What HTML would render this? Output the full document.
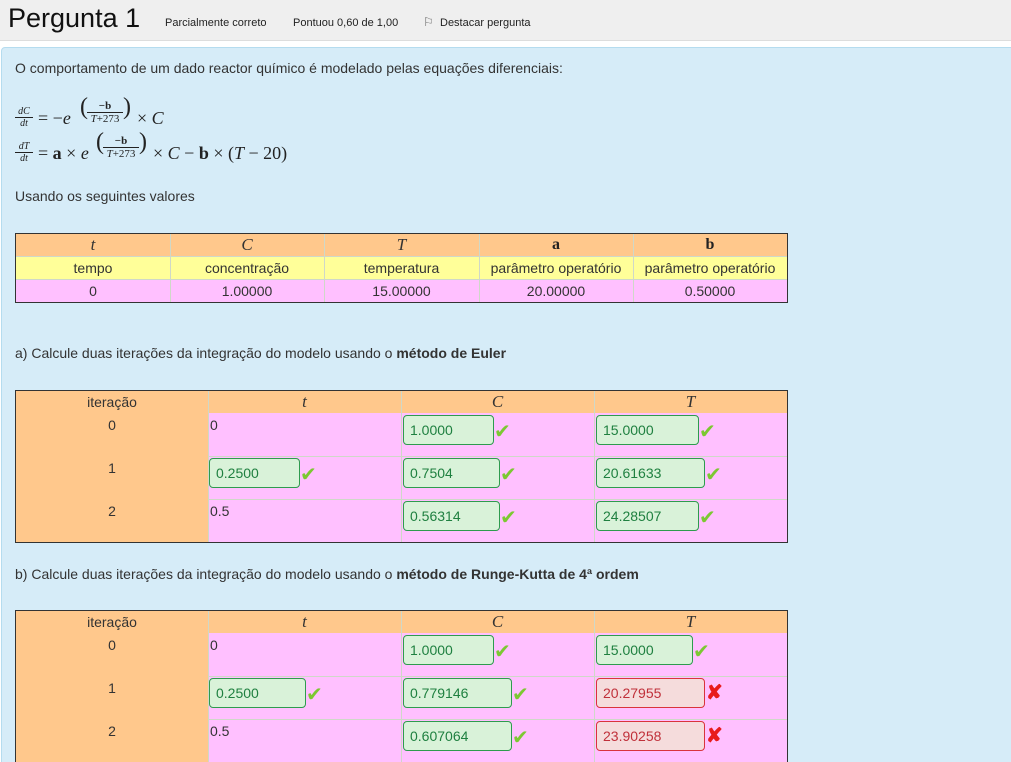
<!DOCTYPE html>
<html><head><meta charset="utf-8"><style>
*{margin:0;padding:0;box-sizing:border-box}
html,body{width:1011px;height:762px;overflow:hidden}
body{background:#fff;font-family:"Liberation Sans",sans-serif;color:#333;position:relative}
.a{position:absolute}
.hdr{left:0;top:0;width:1011px;height:41px;background:#efefef;border-bottom:1px solid #ddd}
.box{left:1px;top:47px;width:1015px;height:720px;background:#d6ecf8;border:1px solid #b5dcef;border-radius:4px}
.t{font-size:14px;color:#333}
.c{position:absolute;text-align:center;font-size:14px;line-height:23px}
.m{font-family:"Liberation Serif",serif;font-style:italic;font-size:17px}
.in{position:absolute;height:30px;border:1px solid #2e9b4e;border-radius:4px;background:#d9f2d9;color:#1f8040;font-size:14px;line-height:28px;padding-left:6px}
.in.r{border-color:#d9343c;background:#f5dcdc;color:#c0303a}
.ck{position:absolute;color:#7cc832;font-size:20px;line-height:20px}
.x{position:absolute;color:#e81c1c;font-size:20px;font-weight:bold;line-height:20px}
.mt{font-family:"Liberation Serif",serif;font-size:18px;color:#222;white-space:nowrap}
</style></head><body>
<div class="a hdr"></div>
<div class="a" style="left:8px;top:3px;font-size:27px;color:#111">Pergunta 1</div>
<div class="a" style="left:165px;top:17px;font-size:11px;color:#222">Parcialmente correto</div>
<div class="a" style="left:293px;top:17px;font-size:11px;color:#222">Pontuou 0,60 de 1,00</div>
<div class="a" style="left:423px;top:15px;font-size:12px;color:#666">⚐</div>
<div class="a" style="left:440px;top:17px;font-size:11px;color:#222">Destacar pergunta</div>
<div class="a box"></div>
<div class="a t" style="left:15px;top:60px">O comportamento de um dado reactor químico é modelado pelas equações diferenciais:</div>

<div class="a mt" style="left:15px;top:106px;font-size:10px;font-style:italic;line-height:11px;text-align:center;width:18px">dC<br><span style="border-top:1px solid #222;display:block">dt</span></div>
<div class="a mt" style="left:38px;top:108px">= −<i>e</i></div>
<div class="a mt" style="left:80px;top:94px;font-size:24px">(</div>
<div class="a mt" style="left:87px;top:100px;font-size:11px;line-height:12px;text-align:center;width:36px"><b>−b</b><br><span style="border-top:1px solid #222;display:block"><i>T</i>+273</span></div>
<div class="a mt" style="left:123px;top:94px;font-size:24px">)</div>
<div class="a mt" style="left:137px;top:108px">× <i>C</i></div>

<div class="a mt" style="left:15px;top:141px;font-size:10px;font-style:italic;line-height:11px;text-align:center;width:18px">dT<br><span style="border-top:1px solid #222;display:block">dt</span></div>
<div class="a mt" style="left:38px;top:143px">= <b>a</b> × <i>e</i></div>
<div class="a mt" style="left:96px;top:129px;font-size:24px">(</div>
<div class="a mt" style="left:103px;top:135px;font-size:11px;line-height:12px;text-align:center;width:36px"><b>−b</b><br><span style="border-top:1px solid #222;display:block"><i>T</i>+273</span></div>
<div class="a mt" style="left:139px;top:129px;font-size:24px">)</div>
<div class="a mt" style="left:153px;top:143px">× <i>C</i> − <b>b</b> × (<i>T</i> − 20)</div>

<div class="a t" style="left:15px;top:188px">Usando os seguintes valores</div>

<!-- table 1 -->
<div class="a" style="left:15px;top:233px;width:773px;height:70px;border:1px solid #333;background:#ffc0ff"></div>
<div class="a" style="left:16px;top:234px;width:771px;height:22px;background:#ffc88c"></div>
<div class="a" style="left:16px;top:256px;width:771px;height:23px;background:#ffff99"></div>
<div class="a" style="left:170px;top:234px;width:1px;height:68px;background:#cfd8c8"></div>
<div class="a" style="left:324px;top:234px;width:1px;height:68px;background:#cfd8c8"></div>
<div class="a" style="left:479px;top:234px;width:1px;height:68px;background:#cfd8c8"></div>
<div class="a" style="left:633px;top:234px;width:1px;height:68px;background:#cfd8c8"></div>
<div class="a" style="left:16px;top:256px;width:771px;height:1px;background:#cfd8c8"></div>
<div class="a" style="left:16px;top:279px;width:771px;height:1px;background:#cfd8c8"></div>
<div class="c m" style="left:16px;top:233px;width:154px">t</div>
<div class="c m" style="left:170px;top:233px;width:154px">C</div>
<div class="c m" style="left:324px;top:233px;width:155px">T</div>
<div class="c mt" style="left:479px;top:233px;width:154px;font-weight:bold;font-size:16px">a</div>
<div class="c mt" style="left:633px;top:233px;width:154px;font-weight:bold;font-size:16px">b</div>
<div class="c" style="left:16px;top:257px;width:154px">tempo</div>
<div class="c" style="left:170px;top:257px;width:154px">concentração</div>
<div class="c" style="left:324px;top:257px;width:155px">temperatura</div>
<div class="c" style="left:479px;top:257px;width:154px">parâmetro operatório</div>
<div class="c" style="left:633px;top:257px;width:154px">parâmetro operatório</div>
<div class="c" style="left:16px;top:280px;width:154px">0</div>
<div class="c" style="left:170px;top:280px;width:154px">1.00000</div>
<div class="c" style="left:324px;top:280px;width:155px">15.00000</div>
<div class="c" style="left:479px;top:280px;width:154px">20.00000</div>
<div class="c" style="left:633px;top:280px;width:154px">0.50000</div>

<div class="a t" style="left:15px;top:345px">a) Calcule duas iterações da integração do modelo usando o <b>método de Euler</b></div>

<!-- table 2 -->
<div class="a" style="left:15px;top:390px;width:773px;height:153px;border:1px solid #333;background:#ffc0ff"></div>
<div class="a" style="left:16px;top:391px;width:771px;height:22px;background:#ffc88c"></div>
<div class="a" style="left:16px;top:391px;width:192px;height:151px;background:#ffc88c"></div>
<div class="a" style="left:208px;top:391px;width:1px;height:151px;background:#cfd8c8"></div>
<div class="a" style="left:401px;top:391px;width:1px;height:151px;background:#cfd8c8"></div>
<div class="a" style="left:594px;top:391px;width:1px;height:151px;background:#cfd8c8"></div>
<div class="a" style="left:208px;top:456px;width:579px;height:1px;background:#cfd8c8"></div>
<div class="a" style="left:208px;top:499px;width:579px;height:1px;background:#cfd8c8"></div>
<div class="c" style="left:16px;top:391px;width:192px">iteração</div>
<div class="c m" style="left:208px;top:390px;width:193px">t</div>
<div class="c m" style="left:401px;top:390px;width:193px">C</div>
<div class="c m" style="left:594px;top:390px;width:193px">T</div>
<div class="c" style="left:16px;top:414px;width:192px">0</div>
<div class="c" style="left:16px;top:457px;width:192px">1</div>
<div class="c" style="left:16px;top:500px;width:192px">2</div>
<div class="a t" style="left:210px;top:417px">0</div>
<div class="a t" style="left:210px;top:503px">0.5</div>
<div class="in" style="left:403px;top:415px;width:91px">1.0000</div><div class="ck" style="left:494px;top:422px">✔</div>
<div class="in" style="left:596px;top:415px;width:103px">15.0000</div><div class="ck" style="left:699px;top:422px">✔</div>
<div class="in" style="left:209px;top:458px;width:91px">0.2500</div><div class="ck" style="left:300px;top:465px">✔</div>
<div class="in" style="left:403px;top:458px;width:97px">0.7504</div><div class="ck" style="left:500px;top:465px">✔</div>
<div class="in" style="left:596px;top:458px;width:109px">20.61633</div><div class="ck" style="left:705px;top:465px">✔</div>
<div class="in" style="left:403px;top:501px;width:97px">0.56314</div><div class="ck" style="left:500px;top:508px">✔</div>
<div class="in" style="left:596px;top:501px;width:103px">24.28507</div><div class="ck" style="left:699px;top:508px">✔</div>

<div class="a t" style="left:15px;top:566px">b) Calcule duas iterações da integração do modelo usando o <b>método de Runge-Kutta de 4ª ordem</b></div>

<!-- table 3 -->
<div class="a" style="left:15px;top:610px;width:773px;height:160px;border:1px solid #333;background:#ffc0ff"></div>
<div class="a" style="left:16px;top:611px;width:771px;height:22px;background:#ffc88c"></div>
<div class="a" style="left:16px;top:611px;width:192px;height:158px;background:#ffc88c"></div>
<div class="a" style="left:208px;top:611px;width:1px;height:158px;background:#cfd8c8"></div>
<div class="a" style="left:401px;top:611px;width:1px;height:158px;background:#cfd8c8"></div>
<div class="a" style="left:594px;top:611px;width:1px;height:158px;background:#cfd8c8"></div>
<div class="a" style="left:208px;top:676px;width:579px;height:1px;background:#cfd8c8"></div>
<div class="a" style="left:208px;top:719px;width:579px;height:1px;background:#cfd8c8"></div>
<div class="c" style="left:16px;top:611px;width:192px">iteração</div>
<div class="c m" style="left:208px;top:610px;width:193px">t</div>
<div class="c m" style="left:401px;top:610px;width:193px">C</div>
<div class="c m" style="left:594px;top:610px;width:193px">T</div>
<div class="c" style="left:16px;top:634px;width:192px">0</div>
<div class="c" style="left:16px;top:677px;width:192px">1</div>
<div class="c" style="left:16px;top:720px;width:192px">2</div>
<div class="a t" style="left:210px;top:637px">0</div>
<div class="a t" style="left:210px;top:723px">0.5</div>
<div class="in" style="left:403px;top:635px;width:91px">1.0000</div><div class="ck" style="left:494px;top:642px">✔</div>
<div class="in" style="left:596px;top:635px;width:97px">15.0000</div><div class="ck" style="left:693px;top:642px">✔</div>
<div class="in" style="left:209px;top:678px;width:97px">0.2500</div><div class="ck" style="left:306px;top:685px">✔</div>
<div class="in" style="left:403px;top:678px;width:109px">0.779146</div><div class="ck" style="left:512px;top:685px">✔</div>
<div class="in r" style="left:596px;top:678px;width:109px">20.27955</div><div class="x" style="left:706px;top:683px">✘</div>
<div class="in" style="left:403px;top:721px;width:109px">0.607064</div><div class="ck" style="left:512px;top:728px">✔</div>
<div class="in r" style="left:596px;top:721px;width:109px">23.90258</div><div class="x" style="left:706px;top:726px">✘</div>
</body></html>
